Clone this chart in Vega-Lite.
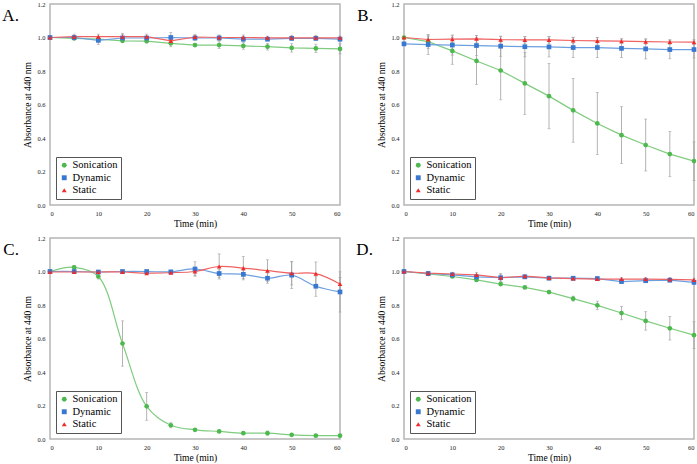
{
"$schema": "https://vega.github.io/schema/vega-lite/v6.json",
"background": "white",
"padding": {"left": 1, "top": 0, "right": 0, "bottom": 0},
"datasets": {"d": [
{"p":"A","s":"Sonication","t":0,"v":1.0,"e":0},{"p":"A","s":"Sonication","t":5,"v":0.995,"e":0.01},{"p":"A","s":"Sonication","t":10,"v":0.99,"e":0.01},{"p":"A","s":"Sonication","t":15,"v":0.98,"e":0.01},{"p":"A","s":"Sonication","t":20,"v":0.978,"e":0.01},{"p":"A","s":"Sonication","t":25,"v":0.965,"e":0.02},{"p":"A","s":"Sonication","t":30,"v":0.955,"e":0.01},{"p":"A","s":"Sonication","t":35,"v":0.955,"e":0.02},{"p":"A","s":"Sonication","t":40,"v":0.95,"e":0.02},{"p":"A","s":"Sonication","t":45,"v":0.945,"e":0.02},{"p":"A","s":"Sonication","t":50,"v":0.938,"e":0.025},{"p":"A","s":"Sonication","t":55,"v":0.935,"e":0.025},{"p":"A","s":"Sonication","t":60,"v":0.932,"e":0.03},
{"p":"A","s":"Dynamic","t":0,"v":1.0,"e":0},{"p":"A","s":"Dynamic","t":5,"v":1.0,"e":0.01},{"p":"A","s":"Dynamic","t":10,"v":0.983,"e":0.025},{"p":"A","s":"Dynamic","t":15,"v":0.997,"e":0.02},{"p":"A","s":"Dynamic","t":20,"v":0.997,"e":0.01},{"p":"A","s":"Dynamic","t":25,"v":1.0,"e":0.03},{"p":"A","s":"Dynamic","t":30,"v":0.997,"e":0.015},{"p":"A","s":"Dynamic","t":35,"v":0.997,"e":0.015},{"p":"A","s":"Dynamic","t":40,"v":0.99,"e":0.015},{"p":"A","s":"Dynamic","t":45,"v":0.99,"e":0.01},{"p":"A","s":"Dynamic","t":50,"v":0.995,"e":0.01},{"p":"A","s":"Dynamic","t":55,"v":0.995,"e":0.01},{"p":"A","s":"Dynamic","t":60,"v":0.99,"e":0.01},
{"p":"A","s":"Static","t":0,"v":1.0,"e":0},{"p":"A","s":"Static","t":5,"v":1.005,"e":0.015},{"p":"A","s":"Static","t":10,"v":1.005,"e":0.015},{"p":"A","s":"Static","t":15,"v":1.005,"e":0.02},{"p":"A","s":"Static","t":20,"v":1.005,"e":0.015},{"p":"A","s":"Static","t":25,"v":0.98,"e":0.01},{"p":"A","s":"Static","t":30,"v":1.003,"e":0.015},{"p":"A","s":"Static","t":35,"v":1.0,"e":0.015},{"p":"A","s":"Static","t":40,"v":1.0,"e":0.015},{"p":"A","s":"Static","t":45,"v":0.998,"e":0.01},{"p":"A","s":"Static","t":50,"v":0.998,"e":0.015},{"p":"A","s":"Static","t":55,"v":0.998,"e":0.015},{"p":"A","s":"Static","t":60,"v":0.998,"e":0.01},
{"p":"B","s":"Sonication","t":0,"v":1.0,"e":0},{"p":"B","s":"Sonication","t":5,"v":0.975,"e":0.04},{"p":"B","s":"Sonication","t":10,"v":0.92,"e":0.08},{"p":"B","s":"Sonication","t":15,"v":0.86,"e":0.14},{"p":"B","s":"Sonication","t":20,"v":0.803,"e":0.175},{"p":"B","s":"Sonication","t":25,"v":0.726,"e":0.185},{"p":"B","s":"Sonication","t":30,"v":0.65,"e":0.195},{"p":"B","s":"Sonication","t":35,"v":0.565,"e":0.19},{"p":"B","s":"Sonication","t":40,"v":0.487,"e":0.185},{"p":"B","s":"Sonication","t":45,"v":0.417,"e":0.17},{"p":"B","s":"Sonication","t":50,"v":0.358,"e":0.155},{"p":"B","s":"Sonication","t":55,"v":0.304,"e":0.135},{"p":"B","s":"Sonication","t":60,"v":0.262,"e":0.115},
{"p":"B","s":"Dynamic","t":0,"v":0.962,"e":0},{"p":"B","s":"Dynamic","t":5,"v":0.958,"e":0.06},{"p":"B","s":"Dynamic","t":10,"v":0.955,"e":0.06},{"p":"B","s":"Dynamic","t":15,"v":0.952,"e":0.06},{"p":"B","s":"Dynamic","t":20,"v":0.948,"e":0.06},{"p":"B","s":"Dynamic","t":25,"v":0.945,"e":0.06},{"p":"B","s":"Dynamic","t":30,"v":0.944,"e":0.06},{"p":"B","s":"Dynamic","t":35,"v":0.94,"e":0.06},{"p":"B","s":"Dynamic","t":40,"v":0.94,"e":0.06},{"p":"B","s":"Dynamic","t":45,"v":0.935,"e":0.055},{"p":"B","s":"Dynamic","t":50,"v":0.932,"e":0.06},{"p":"B","s":"Dynamic","t":55,"v":0.928,"e":0.055},{"p":"B","s":"Dynamic","t":60,"v":0.928,"e":0.05},
{"p":"B","s":"Static","t":0,"v":1.0,"e":0},{"p":"B","s":"Static","t":5,"v":0.988,"e":0.02},{"p":"B","s":"Static","t":10,"v":0.99,"e":0.02},{"p":"B","s":"Static","t":15,"v":0.992,"e":0.02},{"p":"B","s":"Static","t":20,"v":0.987,"e":0.02},{"p":"B","s":"Static","t":25,"v":0.986,"e":0.02},{"p":"B","s":"Static","t":30,"v":0.986,"e":0.02},{"p":"B","s":"Static","t":35,"v":0.982,"e":0.02},{"p":"B","s":"Static","t":40,"v":0.98,"e":0.02},{"p":"B","s":"Static","t":45,"v":0.978,"e":0.015},{"p":"B","s":"Static","t":50,"v":0.975,"e":0.015},{"p":"B","s":"Static","t":55,"v":0.973,"e":0.015},{"p":"B","s":"Static","t":60,"v":0.972,"e":0.015},
{"p":"C","s":"Sonication","t":0,"v":1.0,"e":0},{"p":"C","s":"Sonication","t":5,"v":1.025,"e":0.01},{"p":"C","s":"Sonication","t":10,"v":0.97,"e":0.015},{"p":"C","s":"Sonication","t":15,"v":0.57,"e":0.135},{"p":"C","s":"Sonication","t":20,"v":0.195,"e":0.083},{"p":"C","s":"Sonication","t":25,"v":0.082,"e":0.015},{"p":"C","s":"Sonication","t":30,"v":0.055,"e":0.005},{"p":"C","s":"Sonication","t":35,"v":0.045,"e":0.005},{"p":"C","s":"Sonication","t":40,"v":0.035,"e":0.005},{"p":"C","s":"Sonication","t":45,"v":0.035,"e":0.012},{"p":"C","s":"Sonication","t":50,"v":0.025,"e":0.005},{"p":"C","s":"Sonication","t":55,"v":0.02,"e":0.005},{"p":"C","s":"Sonication","t":60,"v":0.02,"e":0.005},
{"p":"C","s":"Dynamic","t":0,"v":1.0,"e":0},{"p":"C","s":"Dynamic","t":5,"v":1.0,"e":0.005},{"p":"C","s":"Dynamic","t":10,"v":0.997,"e":0.005},{"p":"C","s":"Dynamic","t":15,"v":1.0,"e":0.005},{"p":"C","s":"Dynamic","t":20,"v":1.0,"e":0.005},{"p":"C","s":"Dynamic","t":25,"v":0.998,"e":0.005},{"p":"C","s":"Dynamic","t":30,"v":1.015,"e":0.043},{"p":"C","s":"Dynamic","t":35,"v":0.988,"e":0.025},{"p":"C","s":"Dynamic","t":40,"v":0.983,"e":0.025},{"p":"C","s":"Dynamic","t":45,"v":0.96,"e":0.03},{"p":"C","s":"Dynamic","t":50,"v":0.978,"e":0.08},{"p":"C","s":"Dynamic","t":55,"v":0.912,"e":0.06},{"p":"C","s":"Dynamic","t":60,"v":0.878,"e":0.12},
{"p":"C","s":"Static","t":0,"v":0.997,"e":0},{"p":"C","s":"Static","t":5,"v":0.997,"e":0.005},{"p":"C","s":"Static","t":10,"v":0.997,"e":0.005},{"p":"C","s":"Static","t":15,"v":0.997,"e":0.005},{"p":"C","s":"Static","t":20,"v":0.99,"e":0.005},{"p":"C","s":"Static","t":25,"v":0.993,"e":0.005},{"p":"C","s":"Static","t":30,"v":1.0,"e":0.025},{"p":"C","s":"Static","t":35,"v":1.03,"e":0.075},{"p":"C","s":"Static","t":40,"v":1.02,"e":0.07},{"p":"C","s":"Static","t":45,"v":1.005,"e":0.065},{"p":"C","s":"Static","t":50,"v":0.99,"e":0.07},{"p":"C","s":"Static","t":55,"v":0.987,"e":0.07},{"p":"C","s":"Static","t":60,"v":0.925,"e":0.04},
{"p":"D","s":"Sonication","t":0,"v":1.0,"e":0},{"p":"D","s":"Sonication","t":5,"v":0.985,"e":0.005},{"p":"D","s":"Sonication","t":10,"v":0.97,"e":0.005},{"p":"D","s":"Sonication","t":15,"v":0.95,"e":0.005},{"p":"D","s":"Sonication","t":20,"v":0.925,"e":0.01},{"p":"D","s":"Sonication","t":25,"v":0.905,"e":0.005},{"p":"D","s":"Sonication","t":30,"v":0.877,"e":0.005},{"p":"D","s":"Sonication","t":35,"v":0.838,"e":0.015},{"p":"D","s":"Sonication","t":40,"v":0.798,"e":0.025},{"p":"D","s":"Sonication","t":45,"v":0.752,"e":0.04},{"p":"D","s":"Sonication","t":50,"v":0.705,"e":0.055},{"p":"D","s":"Sonication","t":55,"v":0.661,"e":0.07},{"p":"D","s":"Sonication","t":60,"v":0.62,"e":0.08},
{"p":"D","s":"Dynamic","t":0,"v":1.0,"e":0},{"p":"D","s":"Dynamic","t":5,"v":0.988,"e":0.01},{"p":"D","s":"Dynamic","t":10,"v":0.98,"e":0.015},{"p":"D","s":"Dynamic","t":15,"v":0.968,"e":0.015},{"p":"D","s":"Dynamic","t":20,"v":0.963,"e":0.025},{"p":"D","s":"Dynamic","t":25,"v":0.968,"e":0.01},{"p":"D","s":"Dynamic","t":30,"v":0.96,"e":0.01},{"p":"D","s":"Dynamic","t":35,"v":0.96,"e":0.01},{"p":"D","s":"Dynamic","t":40,"v":0.958,"e":0.01},{"p":"D","s":"Dynamic","t":45,"v":0.94,"e":0.01},{"p":"D","s":"Dynamic","t":50,"v":0.945,"e":0.01},{"p":"D","s":"Dynamic","t":55,"v":0.948,"e":0.01},{"p":"D","s":"Dynamic","t":60,"v":0.935,"e":0.01},
{"p":"D","s":"Static","t":0,"v":1.0,"e":0},{"p":"D","s":"Static","t":5,"v":0.99,"e":0.01},{"p":"D","s":"Static","t":10,"v":0.985,"e":0.01},{"p":"D","s":"Static","t":15,"v":0.98,"e":0.015},{"p":"D","s":"Static","t":20,"v":0.963,"e":0.02},{"p":"D","s":"Static","t":25,"v":0.972,"e":0.01},{"p":"D","s":"Static","t":30,"v":0.962,"e":0.01},{"p":"D","s":"Static","t":35,"v":0.958,"e":0.01},{"p":"D","s":"Static","t":40,"v":0.955,"e":0.01},{"p":"D","s":"Static","t":45,"v":0.955,"e":0.01},{"p":"D","s":"Static","t":50,"v":0.955,"e":0.01},{"p":"D","s":"Static","t":55,"v":0.953,"e":0.01},{"p":"D","s":"Static","t":60,"v":0.95,"e":0.01}
]},
"data": {"name": "d"},
"columns": 2,
"spacing": {"row": 5, "column": 11},
"resolve": {"scale": {"color": "independent", "shape": "independent", "stroke": "independent"}, "legend": {"color": "independent", "shape": "independent", "stroke": "independent"}},
"concat": [
{"width": 290, "height": 201,
 "title": {"text": "A.", "orient": "left", "angle": 0, "anchor": "end", "align": "left", "baseline": "top", "dy": 7, "offset": 4},
 "transform": [{"filter": "datum.p === 'A'"}],
 "resolve": {"scale": {"color": "independent", "shape": "independent", "stroke": "independent"}, "legend": {"color": "independent", "shape": "independent", "stroke": "independent"}},
 "encoding": {"x": {"field": "t", "type": "quantitative", "scale": {"domain": [0, 60]}, "axis": {"values": [0,10,20,30,40,50,60], "title": "Time (min)"}},
              "y": {"field": "v", "type": "quantitative", "scale": {"domain": [0, 1.2]}, "axis": {"values": [0,0.2,0.4,0.6,0.8,1.0,1.2], "format": ".1f", "title": "Absorbance at 440 nm"}}},
 "layer": [
  {"mark": {"type": "errorbar", "color": "#a0a0a0", "thickness": 0.8, "ticks": {"size": 3}}, "encoding": {"yError": {"field": "e"}, "detail": {"field": "s"}}},
  {"mark": {"type": "line", "strokeWidth": 1.2, "interpolate": "linear"}, "encoding": {"stroke": {"field": "s", "type": "nominal", "scale": {"domain": ["Sonication","Dynamic","Static"], "range": ["#7fcc7f","#6c9fe0","#f06262"]}, "legend": null}, "order": {"field": "t"}}},
  {"mark": {"type": "point", "filled": true, "size": 22, "opacity": 1, "strokeWidth": 0}, "encoding": {"color": {"field": "s", "type": "nominal", "scale": {"domain": ["Sonication","Dynamic","Static"], "range": ["#4db84d","#3878d0","#ee2a2a"]}, "legend": {"title": null, "orient": "bottom-left", "offset": 6, "padding": 3, "symbolSize": 24, "rowPadding": 1.5, "encode": {"legend": {"update": {"stroke": {"value": "#555555"}, "strokeWidth": {"value": 1}, "fill": {"value": "#ffffff"}}}, "labels": {"update": {"font": {"value": "Liberation Serif"}, "fontSize": {"value": 10.5}, "fill": {"value": "#000000"}}}}}}, "shape": {"field": "s", "type": "nominal", "scale": {"domain": ["Sonication","Dynamic","Static"], "range": ["circle","square","triangle-up"]}, "legend": {"title": null, "orient": "bottom-left", "offset": 6, "padding": 3, "symbolSize": 24, "rowPadding": 1.5, "encode": {"legend": {"update": {"stroke": {"value": "#555555"}, "strokeWidth": {"value": 1}, "fill": {"value": "#ffffff"}}}, "labels": {"update": {"font": {"value": "Liberation Serif"}, "fontSize": {"value": 10.5}, "fill": {"value": "#000000"}}}}}}}}
 ]},
{"width": 290, "height": 201,
 "title": {"text": "B.", "orient": "left", "angle": 0, "anchor": "end", "align": "left", "baseline": "top", "dy": 7, "offset": 4},
 "transform": [{"filter": "datum.p === 'B'"}],
 "resolve": {"scale": {"color": "independent", "shape": "independent", "stroke": "independent"}, "legend": {"color": "independent", "shape": "independent", "stroke": "independent"}},
 "encoding": {"x": {"field": "t", "type": "quantitative", "scale": {"domain": [0, 60]}, "axis": {"values": [0,10,20,30,40,50,60], "title": "Time (min)"}},
              "y": {"field": "v", "type": "quantitative", "scale": {"domain": [0, 1.2]}, "axis": {"values": [0,0.2,0.4,0.6,0.8,1.0,1.2], "format": ".1f", "title": "Absorbance at 440 nm"}}},
 "layer": [
  {"mark": {"type": "errorbar", "color": "#a0a0a0", "thickness": 0.8, "ticks": {"size": 3}}, "encoding": {"yError": {"field": "e"}, "detail": {"field": "s"}}},
  {"mark": {"type": "line", "strokeWidth": 1.2, "interpolate": "linear"}, "encoding": {"stroke": {"field": "s", "type": "nominal", "scale": {"domain": ["Sonication","Dynamic","Static"], "range": ["#7fcc7f","#6c9fe0","#f06262"]}, "legend": null}, "order": {"field": "t"}}},
  {"mark": {"type": "point", "filled": true, "size": 22, "opacity": 1, "strokeWidth": 0}, "encoding": {"color": {"field": "s", "type": "nominal", "scale": {"domain": ["Sonication","Dynamic","Static"], "range": ["#4db84d","#3878d0","#ee2a2a"]}, "legend": {"title": null, "orient": "bottom-left", "offset": 6, "padding": 3, "symbolSize": 24, "rowPadding": 1.5, "encode": {"legend": {"update": {"stroke": {"value": "#555555"}, "strokeWidth": {"value": 1}, "fill": {"value": "#ffffff"}}}, "labels": {"update": {"font": {"value": "Liberation Serif"}, "fontSize": {"value": 10.5}, "fill": {"value": "#000000"}}}}}}, "shape": {"field": "s", "type": "nominal", "scale": {"domain": ["Sonication","Dynamic","Static"], "range": ["circle","square","triangle-up"]}, "legend": {"title": null, "orient": "bottom-left", "offset": 6, "padding": 3, "symbolSize": 24, "rowPadding": 1.5, "encode": {"legend": {"update": {"stroke": {"value": "#555555"}, "strokeWidth": {"value": 1}, "fill": {"value": "#ffffff"}}}, "labels": {"update": {"font": {"value": "Liberation Serif"}, "fontSize": {"value": 10.5}, "fill": {"value": "#000000"}}}}}}}}
 ]},
{"width": 290, "height": 201,
 "title": {"text": "C.", "orient": "left", "angle": 0, "anchor": "end", "align": "left", "baseline": "top", "dy": 7, "offset": 4},
 "transform": [{"filter": "datum.p === 'C'"}],
 "resolve": {"scale": {"color": "independent", "shape": "independent", "stroke": "independent"}, "legend": {"color": "independent", "shape": "independent", "stroke": "independent"}},
 "encoding": {"x": {"field": "t", "type": "quantitative", "scale": {"domain": [0, 60]}, "axis": {"values": [0,10,20,30,40,50,60], "title": "Time (min)"}},
              "y": {"field": "v", "type": "quantitative", "scale": {"domain": [0, 1.2]}, "axis": {"values": [0,0.2,0.4,0.6,0.8,1.0,1.2], "format": ".1f", "title": "Absorbance at 440 nm"}}},
 "layer": [
  {"mark": {"type": "errorbar", "color": "#a0a0a0", "thickness": 0.8, "ticks": {"size": 3}}, "encoding": {"yError": {"field": "e"}, "detail": {"field": "s"}}},
  {"mark": {"type": "line", "strokeWidth": 1.2, "interpolate": "catmull-rom"}, "encoding": {"stroke": {"field": "s", "type": "nominal", "scale": {"domain": ["Sonication","Dynamic","Static"], "range": ["#7fcc7f","#6c9fe0","#f06262"]}, "legend": null}, "order": {"field": "t"}}},
  {"mark": {"type": "point", "filled": true, "size": 22, "opacity": 1, "strokeWidth": 0}, "encoding": {"color": {"field": "s", "type": "nominal", "scale": {"domain": ["Sonication","Dynamic","Static"], "range": ["#4db84d","#3878d0","#ee2a2a"]}, "legend": {"title": null, "orient": "bottom-left", "offset": 6, "padding": 3, "symbolSize": 24, "rowPadding": 1.5, "encode": {"legend": {"update": {"stroke": {"value": "#555555"}, "strokeWidth": {"value": 1}, "fill": {"value": "#ffffff"}}}, "labels": {"update": {"font": {"value": "Liberation Serif"}, "fontSize": {"value": 10.5}, "fill": {"value": "#000000"}}}}}}, "shape": {"field": "s", "type": "nominal", "scale": {"domain": ["Sonication","Dynamic","Static"], "range": ["circle","square","triangle-up"]}, "legend": {"title": null, "orient": "bottom-left", "offset": 6, "padding": 3, "symbolSize": 24, "rowPadding": 1.5, "encode": {"legend": {"update": {"stroke": {"value": "#555555"}, "strokeWidth": {"value": 1}, "fill": {"value": "#ffffff"}}}, "labels": {"update": {"font": {"value": "Liberation Serif"}, "fontSize": {"value": 10.5}, "fill": {"value": "#000000"}}}}}}}}
 ]},
{"width": 290, "height": 201,
 "title": {"text": "D.", "orient": "left", "angle": 0, "anchor": "end", "align": "left", "baseline": "top", "dy": 7, "offset": 4},
 "transform": [{"filter": "datum.p === 'D'"}],
 "resolve": {"scale": {"color": "independent", "shape": "independent", "stroke": "independent"}, "legend": {"color": "independent", "shape": "independent", "stroke": "independent"}},
 "encoding": {"x": {"field": "t", "type": "quantitative", "scale": {"domain": [0, 60]}, "axis": {"values": [0,10,20,30,40,50,60], "title": "Time (min)"}},
              "y": {"field": "v", "type": "quantitative", "scale": {"domain": [0, 1.2]}, "axis": {"values": [0,0.2,0.4,0.6,0.8,1.0,1.2], "format": ".1f", "title": "Absorbance at 440 nm"}}},
 "layer": [
  {"mark": {"type": "errorbar", "color": "#a0a0a0", "thickness": 0.8, "ticks": {"size": 3}}, "encoding": {"yError": {"field": "e"}, "detail": {"field": "s"}}},
  {"mark": {"type": "line", "strokeWidth": 1.2, "interpolate": "linear"}, "encoding": {"stroke": {"field": "s", "type": "nominal", "scale": {"domain": ["Sonication","Dynamic","Static"], "range": ["#7fcc7f","#6c9fe0","#f06262"]}, "legend": null}, "order": {"field": "t"}}},
  {"mark": {"type": "point", "filled": true, "size": 22, "opacity": 1, "strokeWidth": 0}, "encoding": {"color": {"field": "s", "type": "nominal", "scale": {"domain": ["Sonication","Dynamic","Static"], "range": ["#4db84d","#3878d0","#ee2a2a"]}, "legend": {"title": null, "orient": "bottom-left", "offset": 6, "padding": 3, "symbolSize": 24, "rowPadding": 1.5, "encode": {"legend": {"update": {"stroke": {"value": "#555555"}, "strokeWidth": {"value": 1}, "fill": {"value": "#ffffff"}}}, "labels": {"update": {"font": {"value": "Liberation Serif"}, "fontSize": {"value": 10.5}, "fill": {"value": "#000000"}}}}}}, "shape": {"field": "s", "type": "nominal", "scale": {"domain": ["Sonication","Dynamic","Static"], "range": ["circle","square","triangle-up"]}, "legend": {"title": null, "orient": "bottom-left", "offset": 6, "padding": 3, "symbolSize": 24, "rowPadding": 1.5, "encode": {"legend": {"update": {"stroke": {"value": "#555555"}, "strokeWidth": {"value": 1}, "fill": {"value": "#ffffff"}}}, "labels": {"update": {"font": {"value": "Liberation Serif"}, "fontSize": {"value": 10.5}, "fill": {"value": "#000000"}}}}}}}}
 ]}
],
"config": {
 "font": "Liberation Serif",
 "view": {"stroke": "#b5b5b5", "strokeWidth": 1.5},
 "title": {"font": "Liberation Serif", "fontSize": 17, "fontWeight": "normal", "color": "#000"},
 "axis": {"labelFont": "Liberation Serif", "labelFontSize": 6.5, "labelColor": "#222", "titleFont": "Liberation Serif", "titleFontSize": 9.5, "titleFontWeight": "normal", "titleColor": "#000", "ticks": false, "domain": false, "grid": false, "labelPadding": 5},
 "axisX": {"titlePadding": 2},
 "axisY": {"titlePadding": 4},
 "legend": {"strokeColor": "#555", "strokeWidth": 1, "fillColor": "white", "padding": 3, "labelFont": "Liberation Serif", "labelFontSize": 10.5, "labelColor": "#000", "symbolSize": 24, "rowPadding": 1.5, "labelOffset": 3}
}
}
